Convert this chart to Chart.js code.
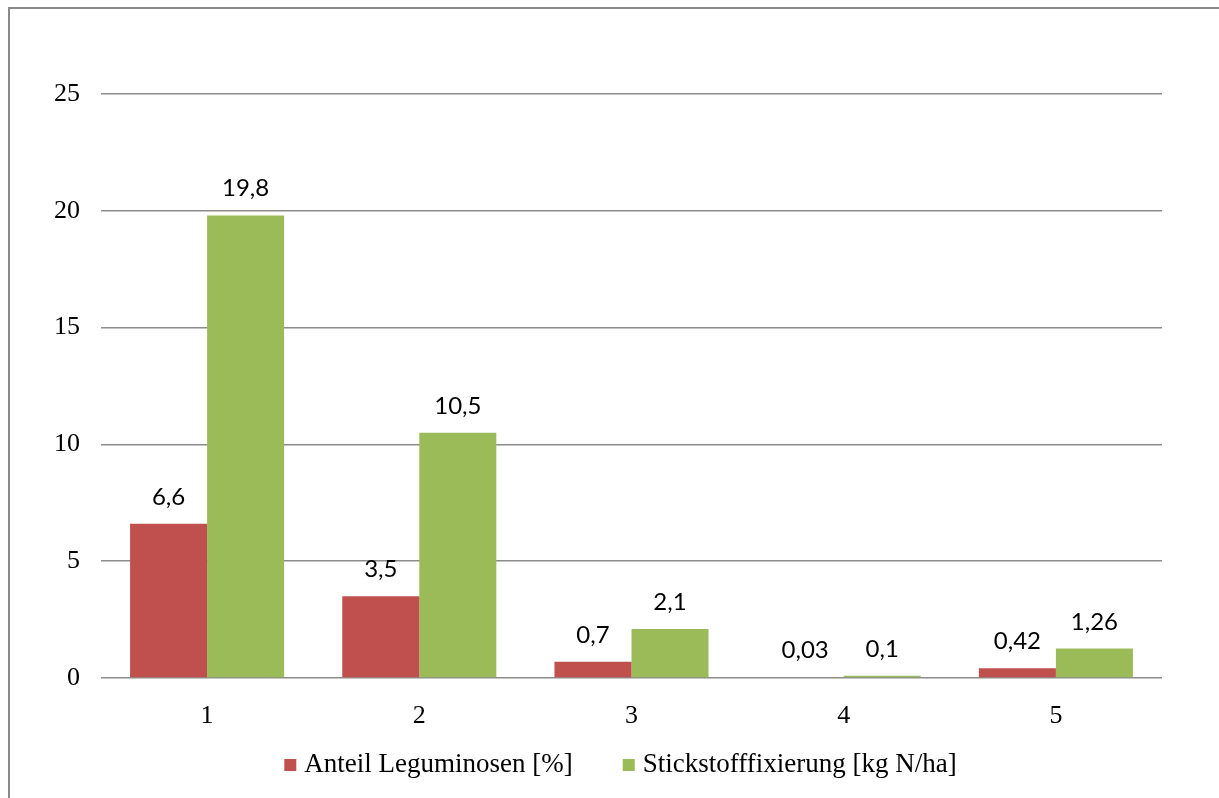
<!DOCTYPE html>
<html>
<head>
<meta charset="utf-8">
<script src="https://cdn.jsdelivr.net/npm/chart.js@4"></script>
<style>
  body { margin: 0; background: #fff; }
  canvas { display: block; }
</style>
</head>
<body>
<canvas id="canvas" width="1219" height="798"></canvas>
<script>
// data
const categories = ["1", "2", "3", "4", "5"];
const anteilLeguminosen = [6.6, 3.5, 0.7, 0.03, 0.42];
const stickstofffixierung = [19.8, 10.5, 2.1, 0.1, 1.26];
const seriesNames = ["Anteil Leguminosen [%]", "Stickstofffixierung [kg N/ha]"];
const yTicks = [0, 5, 10, 15, 20, 25];

const serifFont = "'Liberation Serif', 'Times New Roman', serif";
const labelFont = "Lato, 'Open Sans', sans-serif";

// grey frame around the whole picture (only left + top are visible)
const framePlugin = {
  id: "frame",
  beforeDraw(chart) {
    const ctx = chart.ctx;
    ctx.save();
    ctx.fillStyle = "#fff";
    ctx.fillRect(0, 0, chart.width, chart.height);
    ctx.strokeStyle = "#8a8a8a";
    ctx.lineWidth = 2;
    ctx.strokeRect(9, 8, chart.width + 20, chart.height + 20);
    ctx.restore();
  },
};

// value labels above each bar, german decimal comma
const valueLabels = {
  id: "valueLabels",
  afterDatasetsDraw(chart) {
    const ctx = chart.ctx;
    ctx.save();
    ctx.font = "24px " + labelFont;
    ctx.fillStyle = "#000";
    ctx.textAlign = "center";
    ctx.textBaseline = "alphabetic";
    chart.data.datasets.forEach((ds, i) => {
      const meta = chart.getDatasetMeta(i);
      meta.data.forEach((bar, j) => {
        const txt = String(ds.data[j]).replace(".", ",");
        ctx.fillText(txt, bar.x, bar.y - 19);
      });
    });
    ctx.restore();
  },
};

// legend drawn by hand so the spacing matches the original
const bottomLegend = {
  id: "bottomLegend",
  afterDraw(chart) {
    const ctx = chart.ctx;
    const box = 12, gap = 8, itemGap = 50;
    ctx.save();
    ctx.font = "27px " + serifFont;
    ctx.textBaseline = "middle";
    ctx.textAlign = "left";
    const items = chart.data.datasets.map((ds) => ({
      text: ds.label,
      color: ds.backgroundColor,
      w: ctx.measureText(ds.label).width,
    }));
    let total = 0;
    items.forEach((it, i) => {
      total += box + gap + it.w + (i > 0 ? itemGap : 0);
    });
    const area = chart.chartArea;
    const y = area.bottom + 87;
    let x = (area.left + area.right) / 2 - 11 - total / 2;
    items.forEach((it) => {
      ctx.fillStyle = it.color;
      ctx.fillRect(x, y - box / 2, box, box);
      ctx.fillStyle = "#000";
      ctx.fillText(it.text, x + box + gap, y);
      x += box + gap + it.w + itemGap;
    });
    ctx.restore();
  },
};

const canvas = document.querySelector("#canvas");
const chart = new Chart(canvas, {
  type: "bar",
  data: {
    labels: categories,
    datasets: [
      {
        label: seriesNames[0],
        data: anteilLeguminosen,
        backgroundColor: "#C0504D",
        borderWidth: 0,
      },
      {
        label: seriesNames[1],
        data: stickstofffixierung,
        backgroundColor: "#9BBB59",
        borderWidth: 0,
      },
    ],
  },
  options: {
    responsive: false,
    animation: false,
    categoryPercentage: 0.726,
    barPercentage: 1,
    layout: {
      padding: { left: 41, right: 57, top: 94, bottom: 62 },
    },
    plugins: {
      tooltip: { enabled: false },
      legend: { display: false },
    },
    scales: {
      x: {
        grid: { display: false, drawTicks: false },
        border: { display: false },
        ticks: {
          color: "#000",
          padding: 23,
          font: { family: serifFont, size: 26 },
        },
        afterFit(scale) {
          scale.height = 58;
        },
      },
      y: {
        min: 0,
        max: 25,
        afterBuildTicks(scale) {
          scale.ticks = yTicks.map((v) => ({ value: v }));
        },
        grid: { color: "#8c8c8c", lineWidth: 1.5, drawTicks: false },
        border: { display: false },
        ticks: {
          color: "#000",
          padding: 21,
          font: { family: serifFont, size: 26 },
        },
        afterFit(scale) {
          scale.width = 60;
        },
      },
    },
  },
  plugins: [framePlugin, valueLabels, bottomLegend],
});
</script>
</body>
</html>
